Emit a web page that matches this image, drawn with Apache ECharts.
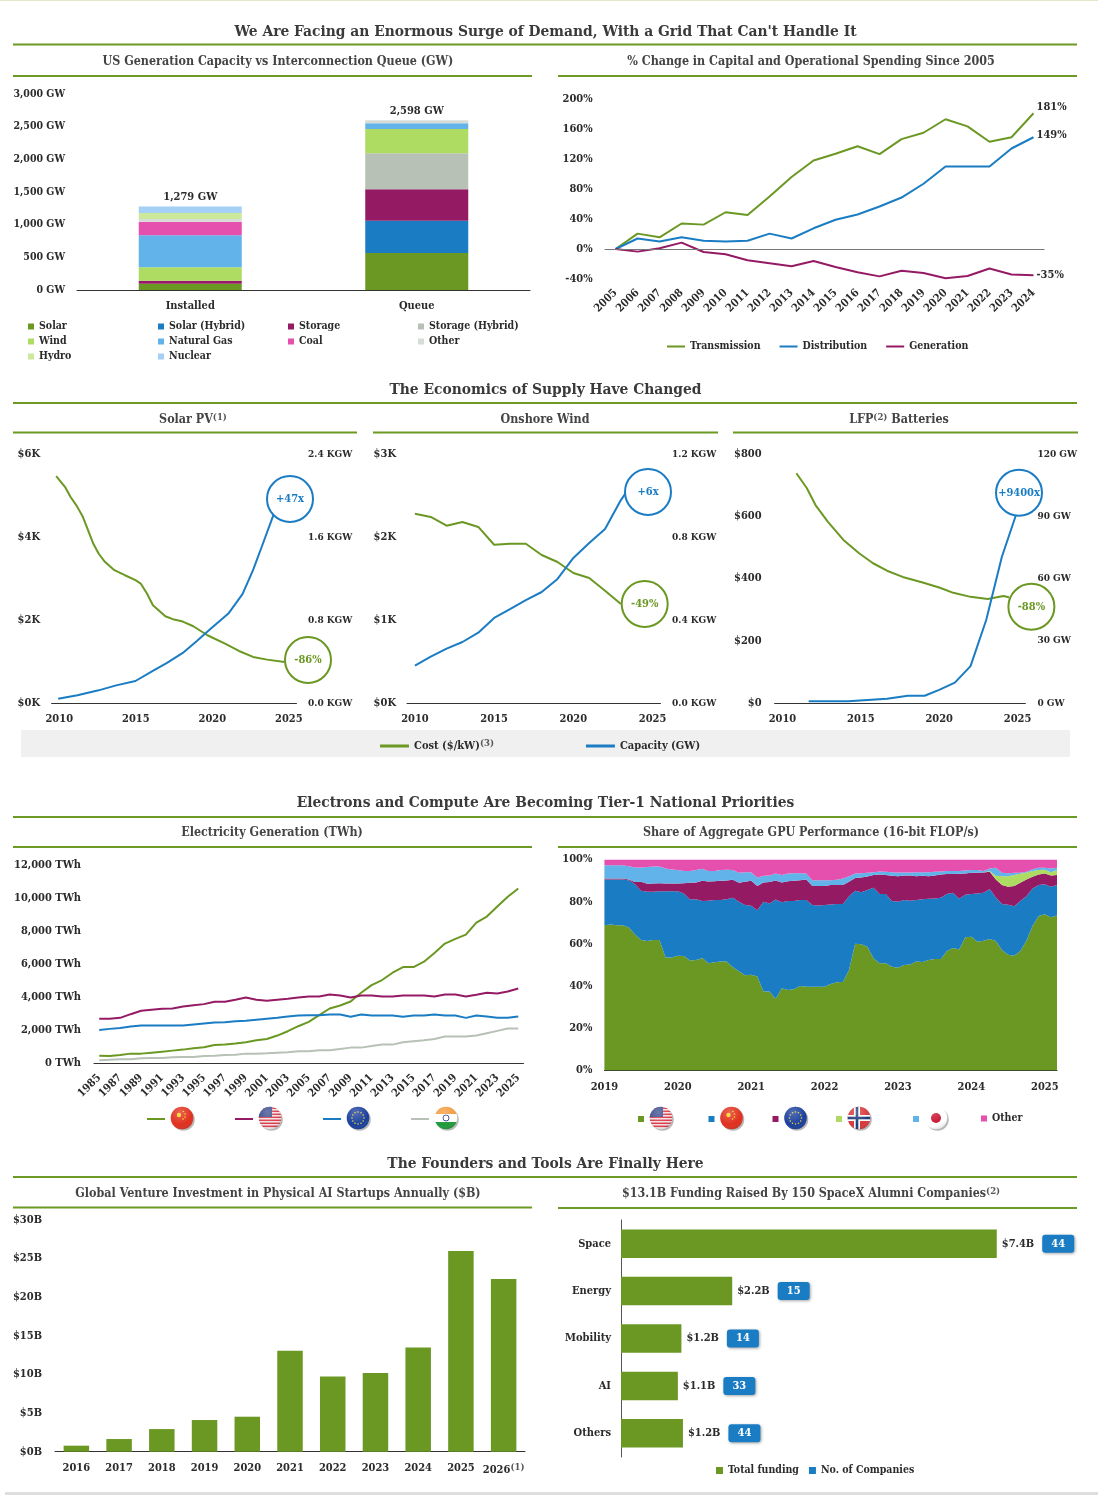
<!DOCTYPE html>
<html><head><meta charset="utf-8">
<style>html,body{margin:0;padding:0;background:#fff}#c{width:1098px;height:1500px}</style>
<script src="https://cdn.jsdelivr.net/npm/echarts@6/dist/echarts.min.js"></script>
</head><body><div id="c"></div>
<script>
// ---------- Data ----------
const stackCats = ['Installed','Queue'];
const solarStack = [95,566], solarHybridStack=[0,495], storageStack=[48,480], storageHybridStack=[0,551];
const windStack=[206,372], gasStack=[490,87], coalStack=[206,0], otherStack=[40,47], hydroStack=[93,0], nuclearStack=[101,0];
const stackTotals=[1279,2598];

const spendYears=['2005','2006','2007','2008','2009','2010','2011','2012','2013','2014','2015','2016','2017','2018','2019','2020','2021','2022','2023','2024'];
const transmission=[0,20.5,15.6,34,32.5,49,45.4,70,96,118,127,137,126.5,146.5,155,173,163.5,143,149,181];
const distribution=[0,14,10,15.6,11,10,11,20.5,14,27.6,39,46,56.6,68.6,87,110,110,110,134,149];
const generation=[0,-3.5,1,8.5,-4,-7,-15,-19,-23,-16,-24,-31,-36.5,-29,-32,-39,-36,-26,-34,-35];

const yearTicks=[2010,2015,2020,2025];
const solarCost=[[2009.8,5467],[2010.37,5210],[2010.73,4969],[2011.15,4744],[2011.54,4486],[2011.88,4165],[2012.22,3843],[2012.57,3602],[2012.98,3401],[2013.6,3200],[2014.29,3079],[2014.98,2959],[2015.32,2878],[2015.73,2637],[2016.12,2356],[2016.93,2090],[2017.5,2010],[2018.07,1962],[2018.76,1849],[2019.68,1632],[2020.83,1431],[2021.74,1254],[2022.66,1110],[2023.58,1045],[2024.72,989]];
const solarCap=[[2009.93,42],[2011.19,74],[2012.57,122],[2013.72,170],[2014.98,212],[2016,299],[2017.04,386],[2018.07,483],[2018.99,598],[2019.91,717],[2021.05,862],[2021.97,1049],[2022.66,1280],[2023.23,1506],[2023.99,1811],[2024.4,1960]];
const windCost=[[2010,2281],[2011,2241],[2012,2136],[2013,2181],[2014,2121],[2015,1907],[2016,1919],[2017,1919],[2018,1783],[2019,1699],[2020,1566],[2021,1506],[2022,1353],[2023,1193]];
const windCap=[[2010,180],[2011,223],[2012,262],[2013,294],[2014,339],[2015,410],[2016,452],[2017,496],[2018,535],[2019,598],[2020,699],[2021,771],[2022,839],[2023,978],[2024,1090]];
const lfpCost=[[2010.89,738],[2011.56,690],[2012.11,636],[2012.89,583],[2013.89,524],[2014.89,481],[2015.78,449],[2016.67,425],[2017.67,405],[2018.89,388],[2020,371],[2020.9,354],[2022,341],[2023.1,334],[2024.1,344],[2024.45,340]];
const lfpCap=[[2011.67,0.8],[2014.2,0.8],[2016.67,2.1],[2018,3.5],[2019.07,3.5],[2020,6.3],[2021,9.8],[2022,17.8],[2023,40],[2024,70.5],[2024.9,90.6],[2025.1,98]];

const elecYears=['1985','1986','1987','1988','1989','1990','1991','1992','1993','1994','1995','1996','1997','1998','1999','2000','2001','2002','2003','2004','2005','2006','2007','2008','2009','2010','2011','2012','2013','2014','2015','2016','2017','2018','2019','2020','2021','2022','2023','2024','2025'];
const elecChina=[446,426,486,568,568,628,689,750,811,892,953,1095,1115,1176,1257,1378,1459,1662,1926,2230,2493,2899,3304,3486,3730,4257,4723,5027,5473,5817,5817,6142,6669,7236,7520,7784,8513,8878,9486,10074,10581];
const elecUS=[2676,2676,2736,2959,3162,3223,3284,3304,3426,3507,3568,3709,3709,3831,3973,3831,3770,3831,3892,3973,4034,4034,4155,4095,3973,4095,4095,4034,4034,4095,4095,4095,4034,4155,4155,4034,4135,4257,4216,4338,4520];
const elecEU=[2007,2068,2128,2209,2270,2270,2270,2270,2270,2331,2392,2453,2473,2534,2554,2615,2676,2736,2818,2878,2899,2899,2939,2939,2797,2939,2878,2878,2878,2797,2878,2878,2939,2878,2878,2736,2878,2818,2736,2736,2818];
const elecIndia=[162,203,223,223,284,304,304,345,365,365,426,446,486,507,568,568,588,628,649,709,709,770,770,851,932,932,1034,1115,1115,1257,1318,1378,1459,1601,1601,1601,1662,1804,1946,2088,2088];

// GPU share: upper edge of each stacked band (%), one value per month from Jan 2019
const gpuMonths=[];for(let y=2019;y<=2025;y++)for(let m=1;m<=12;m++){if(gpuMonths.length<75)gpuMonths.push(y+'-'+String(m).padStart(2,'0'));}
const usTop=[68.8,69.2,68.8,68.8,67.8,64.5,61.8,61.4,61.8,61.8,53.5,53.5,54.4,54.3,52.1,52.4,53.3,50.8,51.3,51.7,51.6,48.9,47,45.1,45.4,44.5,37.5,37.5,33.9,39,38.2,38.5,40.1,39.7,39.7,39.7,39.7,41,41.8,42,47.6,60.1,59.8,58.7,53.2,50.8,50.8,49.2,48.7,50,50.2,51.7,51.4,52.4,52.8,52.8,56.6,58,57.4,63.1,63.4,61,61.5,62.3,61.4,57.1,54.9,54.4,56.6,61.5,68.5,73.2,74,72.6,73.5];
const chinaTop=[90.5,90.5,90.5,90.5,90.2,88.3,85.2,84.7,84.7,84.9,85,85,85,83.9,81.1,81.2,80.3,80.4,80.8,80.8,81.2,81.9,80,78.4,78.1,76,80,79.2,81.1,79.7,80.3,80.3,80.8,80.8,78.4,78.2,78.4,78.7,78.9,78.9,82.6,85.2,84.5,85.5,86.6,83.6,83.6,80.3,80,80.8,80.4,80.8,81.2,81.4,81.5,81.9,83.6,84.2,81.4,83.3,83.6,83.9,84.2,86,82,78.9,78.5,77.8,80.3,82.6,86.3,87.9,88.3,87.1,87.9];
const euTop=[91,91,91,91,90.5,89.3,89.4,88.5,88.6,88.8,88.6,88.6,88.6,88.8,89,89.1,89.9,89.6,89.7,89.9,90.1,90.4,89,89.4,89.9,87.4,89.1,89.3,90.1,89.1,89.7,89.9,90.2,90.5,87.5,87.4,87.5,87.9,87.9,87.9,89.4,91.2,91.5,92,92.6,92.9,92.6,92.3,92.1,92.4,92.4,92.1,92.3,92.1,92.4,92.9,93.1,93.1,93.2,93.4,93.7,93.7,93.8,94.2,90.5,87.9,87.1,87.5,89,90.5,91.8,92.9,93.4,92.4,92.6];
const norwayShare=[0,0,0,0,0,0,0,0,0,0,0,0,0,0,0,0,0,0,0,0,0,0,0,0,0,0,0,0,0,0,0,0,0,0,0,0,0,0,0,0,0,0,0,0,0,0,0,0,0,0,0,0,0,0,0,0,0,0,0,0,0,0,0,0.4,1.8,4.2,5,5.1,4.2,3.3,2.8,2.1,1.7,1.6,2.4];
const japanTop=[97.3,97.3,97.3,97.3,96.8,96.2,96.2,96.4,96.7,96.7,95.7,95.3,95,94.6,94.6,95,95.6,94.6,94.5,95,95.1,95,93.7,94,94,91.5,92.3,92.4,93.4,92.6,93.4,93.5,93.5,93.4,90.2,90.2,90.2,90.2,90.4,91,92.1,93.4,93.5,93.7,94,94.3,94.2,94,93.8,93.8,93.8,94,94,94,94.2,94.3,94.5,94.5,94.5,94.8,95,95,94.6,95.7,96.1,93.7,93.5,93.7,93.7,94.2,95.4,96.1,96.1,95.7,96.1];

const ventureYears=['2016','2017','2018','2019','2020','2021','2022','2023','2024','2025','2026'];
const ventureValues=[0.78,1.64,2.93,4.1,4.53,13.08,9.75,10.2,13.5,26,22.36];

const alumniSectors=['Space','Energy','Mobility','AI','Others'];
const alumniFunding=[7.4,2.19,1.19,1.12,1.22];
const alumniCompanies=[44,15,14,33,44];

// ---------- Style ----------
const FONT='"DejaVu Serif Condensed","Liberation Serif",serif';
const C={green:'#6b9823',blue:'#1a7dc4',plum:'#951a64',sage:'#b7c1b6',lime:'#aedb62',sky:'#62b3ea',pink:'#e54fae',mist:'#d6dcd6',pale:'#cbe89b',ice:'#a3d0f4'};
const INK='#2b2b2b', RULE='#6d9a24';
const tick={fontFamily:FONT,fontWeight:'bold',fontSize:11,color:INK};
const tickSm=Object.assign({},tick,{fontSize:10.5});
const tickXs=Object.assign({},tick,{fontSize:10});
const supRich={sup:{fontFamily:FONT,fontWeight:'bold',fontSize:9.5,color:'#555',verticalAlign:'top',padding:[0,0,4,0]}};

function flag(inner){
  const svg=`<svg xmlns="http://www.w3.org/2000/svg" width="26" height="26" viewBox="0 0 26 26"><defs><clipPath id="c"><circle cx="12" cy="12" r="11.3"/></clipPath><radialGradient id="g" cx="40%" cy="25%" r="80%"><stop offset="0" stop-color="#fff" stop-opacity=".25"/><stop offset=".7" stop-color="#fff" stop-opacity="0"/><stop offset="1" stop-color="#000" stop-opacity=".18"/></radialGradient></defs><circle cx="13.5" cy="13.5" r="11.3" fill="#000" opacity=".28"/><g clip-path="url(#c)">${inner}</g><circle cx="12" cy="12" r="11.3" fill="url(#g)"/></svg>`;
  return 'data:image/svg+xml;charset=utf-8,'+encodeURIComponent(svg);
}
const usStripes=[1.5,4.5,7.5,10.5,13.5,16.5,19.5].map(y=>`<rect x="0" y="${y}" width="24" height="1.6" fill="#d93a4a"/>`).join('');
const FLAGS={
  cn:flag('<rect width="24" height="24" fill="#e0301e"/><circle cx="9" cy="9" r="2.2" fill="#f7d417"/><circle cx="13.4" cy="5.5" r=".8" fill="#f7d417"/><circle cx="15" cy="8" r=".8" fill="#f7d417"/><circle cx="15" cy="11" r=".8" fill="#f7d417"/><circle cx="13" cy="13" r=".8" fill="#f7d417"/>'),
  us:flag(`<rect width="24" height="24" fill="#f6f2f2"/>${usStripes}<rect x="0" y="0" width="14" height="11" fill="#3c4f8f"/>`),
  eu:flag('<rect width="24" height="24" fill="#1a3f9c"/>'+[0,30,60,90,120,150,180,210,240,270,300,330].map(a=>`<circle cx="${12+6*Math.cos(a*Math.PI/180)}" cy="${12+6*Math.sin(a*Math.PI/180)}" r=".8" fill="#e8d23a"/>`).join('')),
  in:flag('<rect width="24" height="24" fill="#fff"/><rect width="24" height="8" fill="#f39a3c"/><rect y="16" width="24" height="8" fill="#1f9a3b"/><circle cx="12" cy="12" r="3" fill="none" stroke="#24307f" stroke-width=".9"/>'),
  no:flag('<rect width="24" height="24" fill="#d8393c"/><rect x="7" width="6" height="24" fill="#fff"/><rect y="9" width="24" height="6" fill="#fff"/><rect x="8.7" width="2.6" height="24" fill="#1d3a78"/><rect y="10.7" width="24" height="2.6" fill="#1d3a78"/>'),
  jp:flag('<rect width="24" height="24" fill="#fff"/><circle cx="12" cy="12" r="5" fill="#c8102e"/>')
};
const flagRich={};
Object.keys(FLAGS).forEach(k=>{flagRich[k]={width:26,height:26,backgroundColor:{image:FLAGS[k]}}});
const flagOf={'China (TWh)':'cn','US (TWh)':'us','EU (TWh)':'eu','India (TWh)':'in','United States':'us','China':'cn','European Union':'eu','Norway':'no','Japan':'jp'};

// ---------- Headings ----------
const titles=[]; const rules=[];
function heading(t,y){titles.push({text:t,left:545.5,top:y-7,padding:0,textAlign:'center',textStyle:{fontFamily:FONT,fontWeight:'bold',fontSize:15.4,color:'#3a3a3a'}});}
function sub(t,cx,y,dy){titles.push({text:t,left:cx,top:y-4-(dy||0),padding:0,textAlign:'center',textStyle:{fontFamily:FONT,fontWeight:'bold',fontSize:12.4,color:'#444',rich:{sup:supRich.sup}}});}
function rule(x1,x2,y,w){rules.push({type:'rect',silent:true,z:1,shape:{x:x1,y:y-w/2,width:x2-x1,height:w},style:{fill:RULE}});}
heading('We Are Facing an Enormous Surge of Demand, With a Grid That Can\'t Handle It',31); rule(13,1077,44.5,2);
sub('US Generation Capacity vs Interconnection Queue (GW)',278,60); rule(13,532,76,2);
sub('% Change in Capital and Operational Spending Since 2005',811,60); rule(558,1077,76,2);
heading('The Economics of Supply Have Changed',389); rule(13,1077,403,2);
sub('Solar PV{sup|(1)}',193,418,1); rule(13,357,432.5,2);
sub('Onshore Wind',545,418); rule(373,718,432.5,2);
sub('LFP{sup|(2)} Batteries',899,418,1); rule(733,1078,432.5,2);
heading('Electrons and Compute Are Becoming Tier-1 National Priorities',802); rule(13,1077,817,2);
sub('Electricity Generation (TWh)',272,831); rule(13,532,847,2);
sub('Share of Aggregate GPU Performance (16-bit FLOP/s)',811,831); rule(558,1077,847,2);
heading('The Founders and Tools Are Finally Here',1163); rule(13,1077,1177,2);
sub('Global Venture Investment in Physical AI Startups Annually ($B)',278,1192); rule(13,532,1207.5,2);
sub('$13.1B Funding Raised By 150 SpaceX Alumni Companies{sup|(2)}',811,1192,1); rule(558,1077,1208,2);
// page edge strips and cost legend band
const graphics=[
 {type:'rect',silent:true,shape:{x:0,y:0,width:1098,height:1},style:{fill:'#dfe9c6'}},
 {type:'rect',silent:true,shape:{x:5,y:1492,width:1093,height:3},style:{fill:'#dedede'}},
 {type:'rect',silent:true,z:0,shape:{x:21,y:730,width:1049,height:27},style:{fill:'#f0f0f0'}},
 ...rules
];

// ---------- Components ----------
const grids=[],xAxes=[],yAxes=[],series=[];
function box(l,r,t,b){grids.push({left:l,width:r-l,top:t,height:b-t,containLabel:false});return grids.length-1;}
const noLine={axisLine:{show:false},axisTick:{show:false},splitLine:{show:false}};
const baseLine={show:true,lineStyle:{color:'#333',width:1}};
function yAx(g,o,pos){yAxes.push(Object.assign({type:'value',gridIndex:g,position:pos||'left'},noLine,o));return yAxes.length-1;}
function xAx(g,o){xAxes.push(Object.assign({gridIndex:g,axisTick:{show:false},splitLine:{show:false},axisLine:baseLine},o));return xAxes.length-1;}

// 1 stacked capacity
{
 const g=box(77,530,94,290);
 const x=xAx(g,{type:'category',data:stackCats,axisLabel:Object.assign({},tick,{margin:11})});
 const y=yAx(g,{min:0,max:3000,interval:500,axisLabel:Object.assign({},tickSm,{margin:12,formatter:v=>v.toLocaleString('en-US')+' GW'})});
 [['Solar',solarStack,C.green],['Solar (Hybrid)',solarHybridStack,C.blue],['Storage',storageStack,C.plum],['Storage (Hybrid)',storageHybridStack,C.sage],['Wind',windStack,C.lime],['Natural Gas',gasStack,C.sky],['Coal',coalStack,C.pink],['Other ',otherStack,C.mist],['Hydro',hydroStack,C.pale],['Nuclear',nuclearStack,C.ice]].forEach(s=>{
  series.push({type:'bar',name:s[0],stack:'cap',xAxisIndex:x,yAxisIndex:y,data:s[1],barWidth:103,itemStyle:{color:s[2]}});
 });
 series.push({type:'line',name:'Total',xAxisIndex:x,yAxisIndex:y,data:stackTotals,symbol:'circle',symbolSize:1,showSymbol:true,itemStyle:{color:'rgba(0,0,0,0)'},lineStyle:{opacity:0},label:{show:true,position:'top',distance:3,formatter:p=>p.value.toLocaleString('en-US')+' GW',fontFamily:FONT,fontWeight:'bold',fontSize:11,color:INK}});
}
// 2 spending lines
{
 const g=box(604.6,1044.5,99,279);
 const x=xAx(g,{type:'category',data:spendYears,axisLine:{show:false},axisLabel:Object.assign({},tick,{rotate:45,interval:0,margin:12})});
 const y=yAx(g,{min:-40,max:200,interval:40,axisLabel:Object.assign({},tick,{margin:12,formatter:v=>v+'%'})});
 [['Transmission',transmission,C.green,-6],['Distribution',distribution,C.blue,-2],['Generation',generation,C.plum,0]].forEach((s,i)=>{
  series.push({type:'line',name:s[0],xAxisIndex:x,yAxisIndex:y,data:s[1],symbol:'none',lineStyle:{color:s[2],width:2},itemStyle:{color:s[2]},
   endLabel:{show:true,distance:3,offset:[0,s[3]],formatter:p=>p.value+'%',fontFamily:FONT,fontWeight:'bold',fontSize:11,color:INK},
   markLine:i===0?{symbol:'none',silent:true,label:{show:false},lineStyle:{color:'#777',width:1,type:'solid'},data:[{yAxis:0}]}:undefined});
 });
}
// 3-5 economics
function econ(l,r,cost,cap,lAxis,rAxis,circles,lm,rm){
 const g=box(l,r,454,703);
 const x=xAx(g,{type:'value',min:2009.5,max:2025.5,axisLabel:Object.assign({},tick,{margin:11,customValues:yearTicks,formatter:v=>String(v)})});
 const yl=yAx(g,Object.assign({axisLabel:Object.assign({},tick,{margin:lm,formatter:lAxis.f})},lAxis.o));
 const yr=yAx(g,Object.assign({axisLabel:Object.assign({},tickXs,{margin:rm,formatter:rAxis.f})},rAxis.o),'right');
 const mk=(c,col)=>({symbol:'circle',symbolSize:46,silent:true,itemStyle:{color:'#fff',borderColor:col,borderWidth:2},label:{show:true,position:'inside',formatter:c.t,fontFamily:FONT,fontWeight:'bold',fontSize:11,color:col},data:[{x:c.x,y:c.y,name:c.t}]});
 series.push({type:'line',name:'Cost ($/kW)',xAxisIndex:x,yAxisIndex:yl,data:cost,symbol:'none',lineStyle:{color:C.green,width:2},itemStyle:{color:C.green},markPoint:mk(circles[0],C.green)});
 series.push({type:'line',name:'Capacity (GW)',xAxisIndex:x,yAxisIndex:yr,data:cap,symbol:'none',lineStyle:{color:C.blue,width:2},itemStyle:{color:C.blue},markPoint:mk(circles[1],C.blue)});
}
const kd=v=>'$'+(v/1000)+'K', kgw=v=>(v/1000).toFixed(1)+' KGW';
econ(51.6,296.5,solarCost,solarCap,{f:kd,o:{min:0,max:6000,interval:2000}},{f:kgw,o:{min:0,max:2400,interval:800}},[{t:'-86%',x:308,y:660},{t:'+47x',x:290,y:499}],11.6,11.5);
econ(407,660.5,windCost,windCap,{f:kd,o:{min:0,max:3000,interval:1000}},{f:kgw,o:{min:0,max:1200,interval:400}},[{t:'-49%',x:644.7,y:604},{t:'+6x',x:648,y:492}],11,11.5);
econ(774.6,1025.4,lfpCost,lfpCap,{f:v=>'$'+v,o:{min:0,max:800,interval:200}},{f:v=>v+' GW',o:{min:0,max:120,interval:30}},[{t:'-88%',x:1031.4,y:606.7},{t:'+9400x',x:1019,y:492.7}],13,12);
// 6 electricity
{
 const g=box(94,523.5,865,1063);
 const x=xAx(g,{type:'category',data:elecYears,axisLabel:Object.assign({},tick,{rotate:45,interval:1,margin:13})});
 const y=yAx(g,{min:0,max:12000,interval:2000,axisLabel:Object.assign({},tick,{margin:13,formatter:v=>v.toLocaleString('en-US')+' TWh'})});
 [['China (TWh)',elecChina,C.green],['US (TWh)',elecUS,C.plum],['EU (TWh)',elecEU,C.blue],['India (TWh)',elecIndia,C.sage]].forEach(s=>{
  series.push({type:'line',name:s[0],xAxisIndex:x,yAxisIndex:y,data:s[1],symbol:'none',lineStyle:{color:s[2],width:2},itemStyle:{color:s[2]}});
 });
}
// 7 GPU share
{
 const g=box(604.4,1057,859.5,1070.5);
 const x=xAx(g,{type:'category',data:gpuMonths,boundaryGap:false,axisLabel:Object.assign({},tick,{interval:11,margin:11,formatter:v=>v.slice(0,4)})});
 const y=yAx(g,{min:0,max:100,interval:20,axisLabel:Object.assign({},tick,{margin:12,formatter:v=>v+'%'})});
 const chinaShare=chinaTop.map((v,i)=>+(v-usTop[i]).toFixed(1));
 const euShare=euTop.map((v,i)=>+(v-chinaTop[i]).toFixed(1));
 const japanShare=japanTop.map((v,i)=>+(v-euTop[i]-norwayShare[i]).toFixed(1));
 const otherShare=japanTop.map(v=>+(100-v).toFixed(1));
 [['United States',usTop,C.green],['China',chinaShare,C.blue],['European Union',euShare,C.plum],['Norway',norwayShare,C.lime],['Japan',japanShare,C.sky],['Other',otherShare,C.pink]].forEach(s=>{
  series.push({type:'line',name:s[0],stack:'gpu',xAxisIndex:x,yAxisIndex:y,data:s[1],symbol:'none',lineStyle:{width:0},itemStyle:{color:s[2]},areaStyle:{color:s[2],opacity:1}});
 });
}
// 8 venture
{
 const g=box(55,525,1220,1451.7);
 const x=xAx(g,{type:'category',data:ventureYears,axisLabel:Object.assign({},tick,{margin:11,interval:0,formatter:v=>v==='2026'?v+'{sup|(1)}':v,rich:supRich})});
 const y=yAx(g,{min:0,max:30,interval:5,axisLabel:Object.assign({},tick,{margin:13,formatter:v=>'$'+v+'B'})});
 series.push({type:'bar',name:'Venture investment',xAxisIndex:x,yAxisIndex:y,data:ventureValues,barWidth:25.5,itemStyle:{color:C.green}});
}
// 9 alumni
{
 const g=box(621,1078,1220,1457);
 const x=xAx(g,{type:'value',min:0,max:9,axisLine:{show:false},axisLabel:{show:false}});
 const y=yAx(g,{type:'category',data:alumniSectors,inverse:true,axisLine:{show:true,lineStyle:{color:'#555',width:1}},axisLabel:Object.assign({},tick,{margin:10})});
 series.push({type:'bar',name:'Total funding',xAxisIndex:x,yAxisIndex:y,data:alumniFunding,barWidth:28.5,itemStyle:{color:C.green},
  label:{show:true,position:'right',distance:5,formatter:p=>'{val|$'+p.value.toFixed(1)+'B}{pill|'+alumniCompanies[p.dataIndex]+'}',
   rich:{val:{fontFamily:FONT,fontWeight:'bold',fontSize:11,color:INK,padding:[0,8,0,0]},
    pill:{fontFamily:FONT,fontWeight:'bold',fontSize:11,color:'#fff',backgroundColor:C.blue,borderRadius:3,width:32,height:18,align:'center',shadowColor:'rgba(0,0,0,.35)',shadowBlur:3,shadowOffsetX:1,shadowOffsetY:1}}}});
 series.push({type:'line',name:'No. of Companies',xAxisIndex:x,yAxisIndex:y,data:[],itemStyle:{color:C.blue}});
}
// Legends
const lgText={fontFamily:FONT,fontWeight:'bold',fontSize:10.5,color:INK};
const sq=(data,left,top)=>({data,left,top,orient:'vertical',selectedMode:false,icon:'rect',itemWidth:6,itemHeight:6,itemGap:4,textStyle:lgText,padding:0});
const gpuLegend=[['United States',638,1106],['China',708.5,1106],['European Union',772.5,1106],['Norway',836,1106],['Japan',913,1106],['Other',981,1113]].map(a=>({
  data:[a[0]],left:a[1],top:a[2],selectedMode:false,icon:'rect',itemWidth:6,itemHeight:6,padding:0,
  formatter:n=>flagOf[n]?'{'+flagOf[n]+'|}':n,textStyle:Object.assign({},lgText,{rich:flagRich})}));
const legends=[
 sq(['Solar','Wind','Hydro'],28,321),
 sq(['Solar (Hybrid)','Natural Gas','Nuclear'],158,321),
 sq(['Storage','Coal'],288,321),
 sq(['Storage (Hybrid)','Other '],418,321),
 {data:['Transmission','Distribution','Generation'],left:667,top:341,selectedMode:false,icon:'rect',itemWidth:18,itemHeight:2,itemGap:19,textStyle:lgText,padding:0},
 {data:['Cost ($/kW)','Capacity (GW)'],left:380,top:739,selectedMode:false,icon:'rect',itemWidth:29,itemHeight:3,itemGap:92,padding:0,
  formatter:n=>n==='Cost ($/kW)'?n+'{sup|(3)}':n,textStyle:Object.assign({},lgText,{fontSize:11,rich:supRich})},
 {data:['China (TWh)','US (TWh)','EU (TWh)','India (TWh)'],left:147,top:1106,selectedMode:false,icon:'rect',itemWidth:18,itemHeight:2,itemGap:39,padding:0,
  formatter:n=>'{'+flagOf[n]+'|}',textStyle:{rich:flagRich}},
 ...gpuLegend,
 {data:['Total funding','No. of Companies'],left:716,top:1465,selectedMode:false,icon:'rect',itemWidth:7,itemHeight:7,itemGap:10,textStyle:lgText,padding:0}
];

const chart=echarts.init(document.getElementById('c'),null,{renderer:'canvas'});
chart.setOption({animation:false,backgroundColor:'#fff',title:titles,graphic:{elements:graphics},grid:grids,xAxis:xAxes,yAxis:yAxes,legend:legends,series});
</script></body></html>
